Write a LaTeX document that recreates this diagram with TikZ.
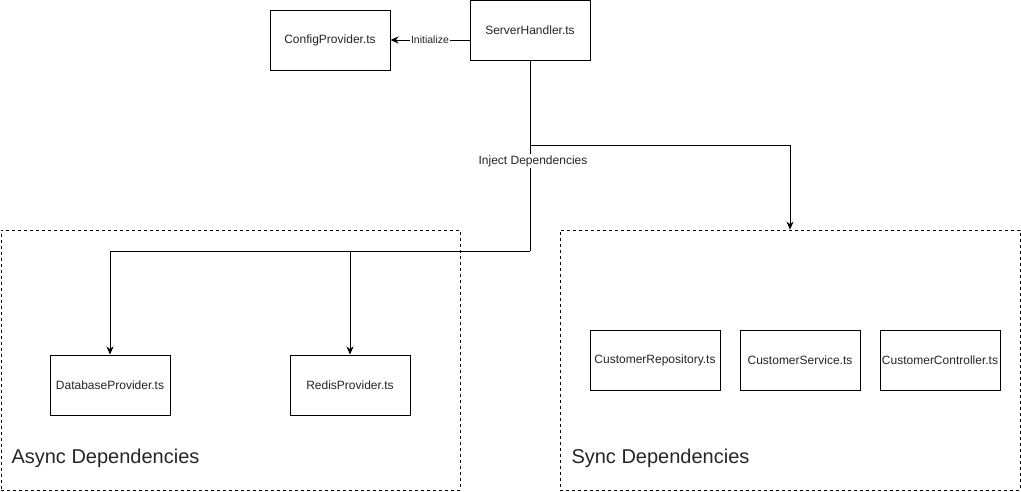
\documentclass[tikz,border=0pt]{standalone}
\usepackage{fontspec}
\setmainfont{Liberation Sans}
\usetikzlibrary{arrows.meta,positioning}
\begin{document}
\begin{tikzpicture}[x=1pt,y=-1pt,
  box/.style={draw=black,line width=1pt,fill=white,minimum width=120pt,minimum height=60pt,inner sep=0pt,font=\fontsize{12}{14}\selectfont,text=black!85},
  cont/.style={draw=black,line width=0.8pt,dash pattern=on 3pt off 3pt,inner sep=0pt},
  conn/.style={line width=1pt,-{Stealth[length=8pt,width=7pt,inset=2.5pt]}},
  lbl/.style={fill=white,inner sep=1pt,text=black!85},
  title/.style={anchor=west,font=\fontsize{20}{23}\selectfont,text=black!85}]
\useasboundingbox (0,0) rectangle (1021,491);
% containers
\node[cont,minimum width=459pt,minimum height=260pt] (async) at (230.5,360) {};
\node[cont,minimum width=460pt,minimum height=260pt] (sync) at (790,360) {};
\node[title] (asynct) at (8,458) {Async Dependencies};
\node[title] (synct) at (568,458) {Sync Dependencies};
% boxes
\node[box] (config) at (330,40) {ConfigProvider.ts};
\node[box] (server) at (530,30) {ServerHandler.ts};
\node[box] (db) at (110,385) {DatabaseProvider.ts};
\node[box] (redis) at (350,385) {RedisProvider.ts};
\node[box,minimum width=130pt] (repo) at (655,360) {CustomerRepository.ts};
\node[box] (service) at (800,360) {CustomerService.ts};
\node[box] (ctrl) at (940,360) {CustomerController.ts};
% connectors
\coordinate (j2) at (530,145);
\coordinate (j1) at (530,251);
\draw[conn] (server.west |- config.east) -- node[lbl,font=\fontsize{10.5}{12}\selectfont] (initl) {Initialize} (config.east);
\draw[line width=1pt] (server.south) -- (j1);
\draw[conn] (j1) -| (db.north);
\draw[conn] (j1 -| redis.north) -- (redis.north);
\draw[conn] (j2) -| (sync.north);
\node[lbl,font=\fontsize{12}{14}\selectfont] (injl) at (533,161) {Inject Dependencies};
\end{tikzpicture}
\end{document}
